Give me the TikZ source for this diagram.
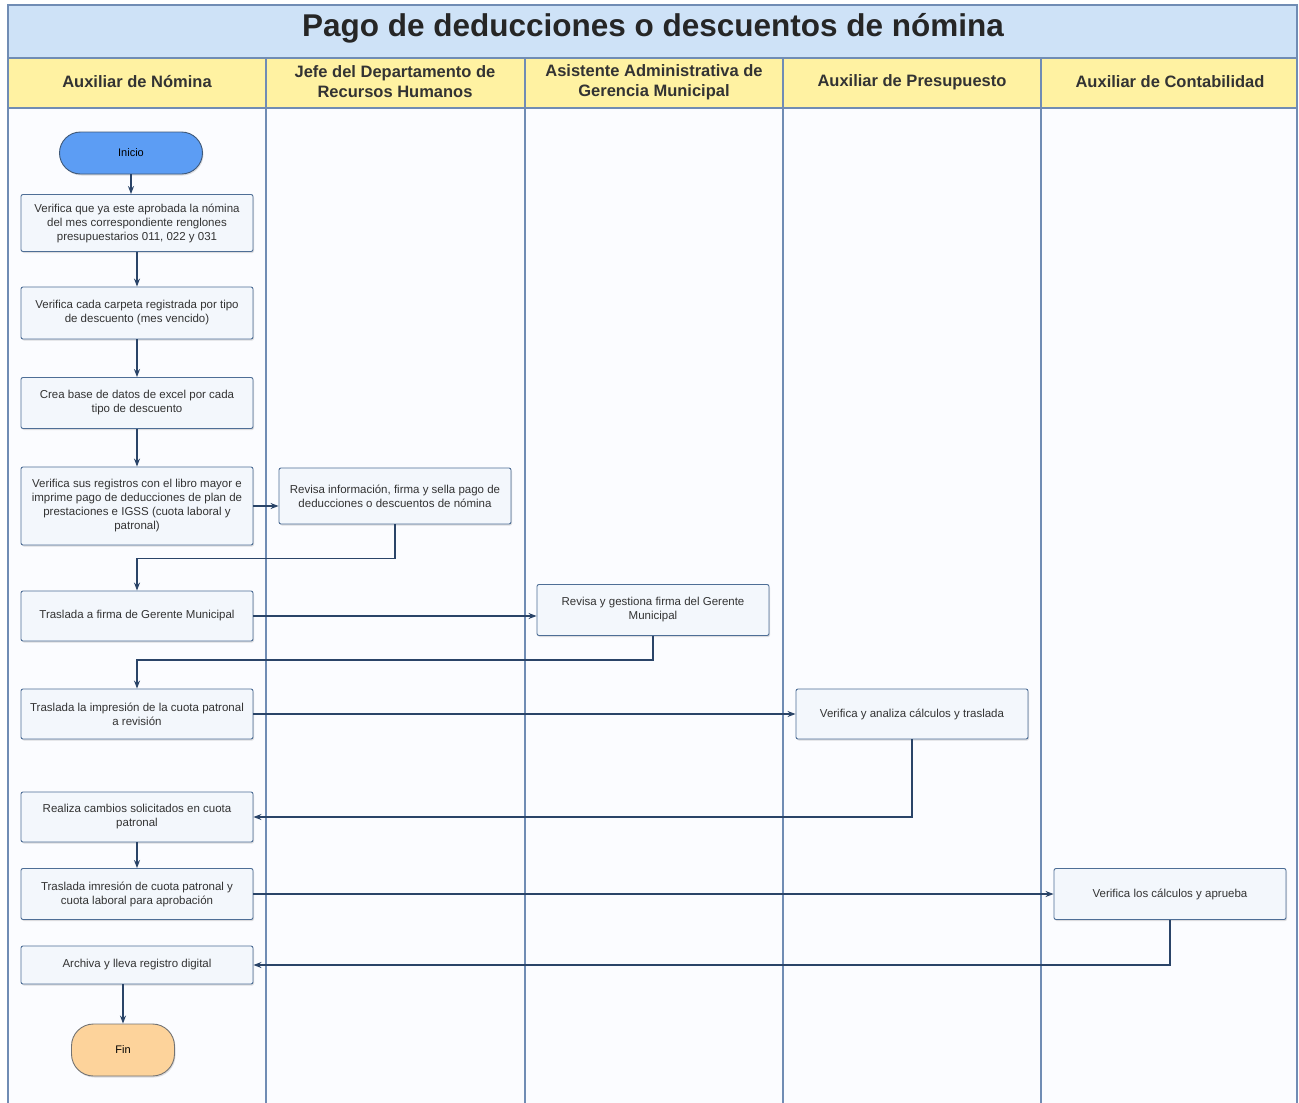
\documentclass[tikz,border=0pt]{standalone}
\RequirePackage{fontspec}
\setmainfont{Liberation Sans}
\RequirePackage{tikz}
\usetikzlibrary{shadows}
\usetikzlibrary{arrows.meta}
\definecolor{titlefill}{RGB}{206,226,247}
\definecolor{headfill}{RGB}{255,242,162}
\definecolor{lanefill}{RGB}{251,252,255}
\definecolor{laneline}{RGB}{112,140,180}
\definecolor{boxline}{RGB}{78,110,150}
\definecolor{boxfill}{RGB}{243,247,252}
\definecolor{startfill}{RGB}{92,157,244}
\definecolor{endfill}{RGB}{253,211,155}
\definecolor{flowline}{RGB}{42,68,104}

\begin{document}
\begin{tikzpicture}[x=1pt,y=-1pt,
    lane/.style={draw=laneline,line width=1.3pt},
    paso/.style={draw=boxline,fill=boxfill,line width=0.9pt,rounded corners=2pt,
        minimum width=232pt,minimum height=51pt,align=center,
        font=\fontsize{11.5}{14}\selectfont,text=black!80,
        drop shadow={shadow xshift=1pt,shadow yshift=-1.5pt,opacity=0.25}},
    flecha/.style={draw=flowline,line width=1.1pt,-{Stealth[length=8pt,width=6pt]}},
    carril/.style={font=\fontsize{16.5}{20}\selectfont\bfseries,text=black!80,align=center}]
    \useasboundingbox (0,0) rectangle (1299,1103);
    \fill[lanefill] (8,108) rectangle (1297,1103);
    \fill[titlefill] (8,5) rectangle (1297,58);
    \fill[headfill] (8,58) rectangle (1297,108);
    \draw[lane] (8,1103) -- (8,5) -- (1297,5) -- (1297,1103);
    \draw[lane] (8,58) -- (1297,58);
    \draw[lane] (8,108) -- (1297,108);
    \foreach \xl in {266,525,783,1041}
        \draw[lane] (\xl,58) -- (\xl,1103);
    \node[font=\fontsize{31.5}{36}\selectfont\bfseries,text=black!85] (titulo) at (653,28) {Pago de deducciones o descuentos de nómina};
    \node[carril] (c1) at (137,82) {Auxiliar de Nómina};
    \node[carril] (c2) at (395,82) {Jefe del Departamento de\\Recursos Humanos};
    \node[carril] (c3) at (654,82) {Asistente Administrativa de\\Gerencia Municipal};
    \node[carril] (c4) at (912,82) {Auxiliar de Presupuesto};
    \node[carril] (c5) at (1170,82) {Auxiliar de Contabilidad};

    \node[draw=boxline!80!black,fill=startfill,line width=0.9pt,rounded corners=21pt,
        minimum width=143pt,minimum height=42pt,font=\fontsize{11}{12}\selectfont,
        drop shadow={shadow xshift=1pt,shadow yshift=-1.5pt,opacity=0.25}] (ini) at (131,153) {Inicio};
    \node[paso,minimum height=57pt] (b1) at (137,223) {Verifica que ya este aprobada la nómina\\del mes correspondiente renglones\\presupuestarios 011, 022 y 031};
    \node[paso,minimum height=52pt] (b2) at (137,313) {Verifica cada carpeta registrada por tipo\\de descuento (mes vencido)};
    \node[paso] (b3) at (137,403) {Crea base de datos de excel por cada\\tipo de descuento};
    \node[paso,minimum height=78pt] (b4) at (137,506) {Verifica sus registros con el libro mayor e\\imprime pago de deducciones de plan de\\prestaciones e IGSS (cuota laboral y\\patronal)};
    \node[paso,minimum height=56pt] (b5) at (395,496) {Revisa información, firma y sella pago de\\deducciones o descuentos de nómina};
    \node[paso,minimum height=50pt] (b6) at (137,616) {Traslada a firma de Gerente Municipal};
    \node[paso] (b7) at (653,610) {Revisa y gestiona firma del Gerente\\Municipal};
    \node[paso,minimum height=50pt] (b8) at (137,714) {Traslada la impresión de la cuota patronal\\a revisión};
    \node[paso,minimum height=50pt] (b9) at (912,714) {Verifica y analiza cálculos y traslada};
    \node[paso,minimum height=50pt] (b10) at (137,817) {Realiza cambios solicitados en cuota\\patronal};
    \node[paso] (b11) at (137,894) {Traslada imresión de cuota patronal y\\cuota laboral para aprobación};
    \node[paso] (b12) at (1170,894) {Verifica los cálculos y aprueba};
    \node[paso,minimum height=38pt] (b13) at (137,965) {Archiva y lleva registro digital};
    \node[draw=black!55,fill=endfill,line width=0.9pt,rounded corners=22pt,
        minimum width=103pt,minimum height=52pt,font=\fontsize{11}{12}\selectfont,
        drop shadow={shadow xshift=1pt,shadow yshift=-1.5pt,opacity=0.25}] (fin) at (123,1050) {Fin};

    \draw[flecha] (ini.south) -- (ini.south |- b1.north);
    \draw[flecha] (b1) -- (b2);
    \draw[flecha] (b2) -- (b3);
    \draw[flecha] (b3) -- (b4);
    \draw[flecha] (b4.east) -- (b4.east -| b5.west);
    \draw[flecha] (b5.south) -- ++(0,34) -| (b6.north);
    \draw[flecha] (b6.east) -- (b6.east -| b7.west);
    \draw[flecha] (b7.south) -- ++(0,24) -| (b8.north);
    \draw[flecha] (b8.east) -- (b9.west);
    \draw[flecha] (b9.south) |- (b10.east);
    \draw[flecha] (b10) -- (b11);
    \draw[flecha] (b11.east) -- (b12.west);
    \draw[flecha] (b12.south) |- (b13.east);
    \draw[flecha] (b13.south -| fin.north) -- (fin.north);
\end{tikzpicture}
\end{document}
